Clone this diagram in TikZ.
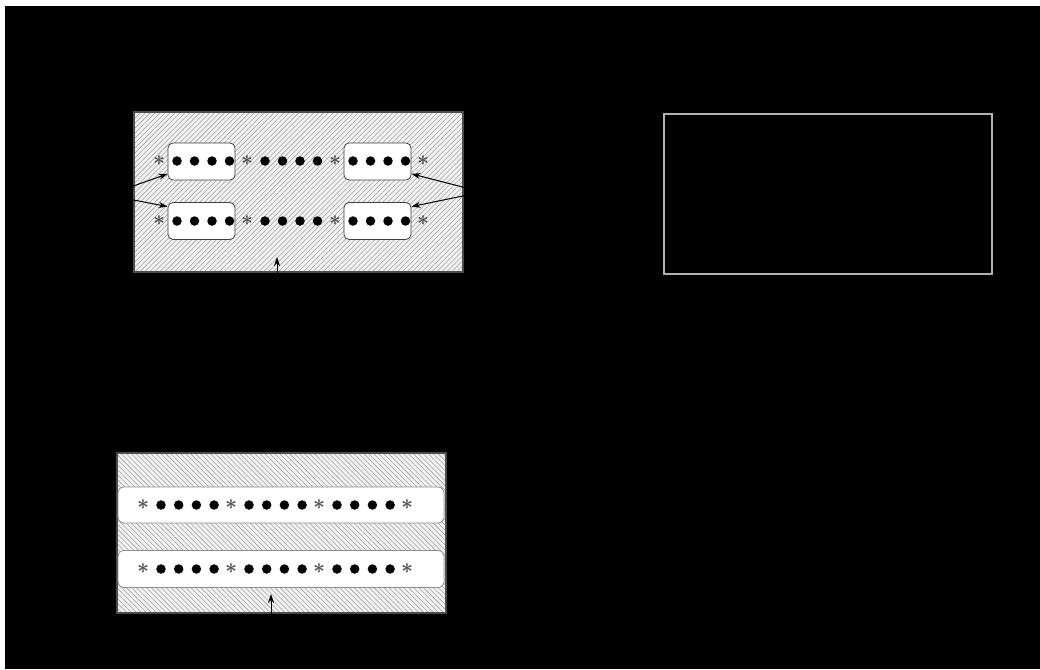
\documentclass[tikz,border=0pt]{standalone}
\usetikzlibrary{patterns.meta,arrows.meta}
\tikzset{
  panel/.style={draw=black!70, line width=1.8pt, preaction={fill=gray!10}, pattern color=gray!75},
  cell/.style={draw=black!75, fill=white, rounded corners=5pt, line width=0.8pt},
  bead/.style={circle, fill=black, inner sep=0pt, minimum size=9.5pt},
  star/.style={inner sep=0pt, text=black!70, font=\fontsize{22}{22}\selectfont\boldmath},
  pointer/.style={-{Stealth[length=9pt,width=6pt]}, line width=1pt}
}
\begin{document}
\begin{tikzpicture}[x=1pt,y=-1pt]
  \fill[white] (0,0) rectangle (1040,669); % page
  \fill[black] (5,6) rectangle (1040,669); % dark ground

  % upper left panel
  \node[panel, pattern={Lines[angle=45,distance=3.5pt,line width=0.55pt]}, minimum width=329pt, minimum height=160pt] (upper) at (298.5,192) {};
  \foreach \nm/\cx/\cy in {cellA/201.5/161.5, cellB/377.5/161.5, cellC/201.5/221, cellD/377.5/221}
    \node[cell, minimum width=67pt, minimum height=37pt] (\nm) at (\cx,\cy) {};
  \foreach \row/\ry in {a/161,b/221}{
    \foreach \g in {0,1,2}{
      \node[star] (st-\row\g) at ({159+88*\g},\ry) {$\ast$};
      \foreach \k in {0,...,3}
        \node[bead] (bd-\row\g\k) at ({177+88*\g+17.5*\k},\ry) {};
    }
    \node[star] (st-\row3) at (423,\ry) {$\ast$};
  }
  \coordinate (lblL) at (108,195);
  \coordinate (lblR) at (482,192);
  \coordinate (lblU) at (277,292);
  \coordinate (tipU) at (277,257);
  \draw[pointer] (lblL) -- (cellA.200);
  \draw[pointer] (lblL) -- (cellC.157);
  \draw[pointer] (lblR) -- (cellB.-20);
  \draw[pointer] (lblR) -- (cellD.23);
  \draw[pointer] (lblU) -- (tipU);

  % upper right panel
  \node[draw=gray!60, line width=1.6pt, fill=black, minimum width=328pt, minimum height=160pt] (blank) at (828,194) {};

  % lower panel
  \node[panel, pattern={Lines[angle=-45,distance=3.5pt,line width=0.55pt]}, minimum width=329pt, minimum height=160pt] (lower) at (281.5,533) {};
  \node[cell, draw=black!45, rounded corners=6pt, minimum width=326pt, minimum height=36pt] (laneA) at (281,505) {};
  \node[cell, draw=black!45, rounded corners=6pt, minimum width=326pt, minimum height=37pt] (laneB) at (281,569) {};
  \foreach \row/\ry in {c/505,d/569}{
    \foreach \g in {0,1,2}{
      \node[star] (st-\row\g) at ({143+88*\g},\ry) {$\ast$};
      \foreach \k in {0,...,3}
        \node[bead] (bd-\row\g\k) at ({161+88*\g+17.7*\k},\ry) {};
    }
    \node[star] (st-\row3) at (407,\ry) {$\ast$};
  }
  \coordinate (lblD) at (271,632);
  \coordinate (tipD) at (271,594);
  \draw[pointer] (lblD) -- (tipD);
\end{tikzpicture}
\end{document}
